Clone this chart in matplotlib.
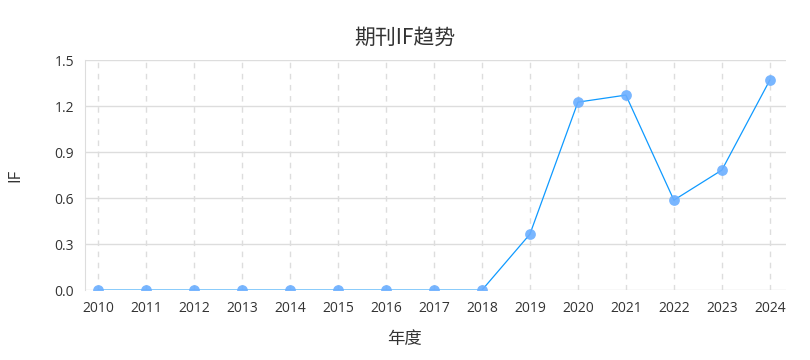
import matplotlib
matplotlib.use('Agg')
import matplotlib.pyplot as plt

plt.rcParams['font.family'] = ['Open Sans', 'Noto Sans CJK SC', 'DejaVu Sans']

# data
years = ['2010', '2011', '2012', '2013', '2014', '2015', '2016', '2017',
         '2018', '2019', '2020', '2021', '2022', '2023', '2024']
impact = [0, 0, 0, 0, 0, 0, 0, 0, 0, 0.365, 1.226, 1.272, 0.587, 0.783, 1.370]
y_ticks = [0.0, 0.3, 0.6, 0.9, 1.2, 1.5]

fig = plt.figure(figsize=(8.1, 3.6), dpi=100)
ax = fig.add_axes([0.105, 0.194, 0.865, 0.639])

x = list(range(len(years)))
ax.plot(x, impact, color='#0f9aff', linewidth=0.9, zorder=3)
ax.scatter(x, impact, s=60, color='#6aaeff', alpha=0.9, zorder=4, linewidths=0)

ax.set_xlim(-0.27, len(years) - 1 + 0.33)
ax.set_ylim(0, 1.5)
ax.set_xticks(x)
ax.set_xticklabels(years)
ax.set_yticks(y_ticks)
ax.set_yticklabels([f'{v:.1f}' for v in y_ticks])

ax.grid(axis='y', color='#dddddd', linewidth=1, linestyle='-')
ax.grid(axis='x', color='#dddddd', linewidth=1, linestyle=(0, (4, 4)))
ax.set_axisbelow(True)

for side in ['top', 'right', 'bottom']:
    ax.spines[side].set_visible(False)
ax.spines['left'].set_color('#dddddd')
ax.tick_params(length=0, colors='#333333', labelsize=10, pad=8)

# title and x label are centred on the figure, not the plot area
cjk = ['Noto Sans CJK SC', 'Open Sans']
fig.text(0.5, 0.058, '年度', ha='center', va='center', fontsize=12.5,
         color='#333333', family=cjk)
ax.set_ylabel('IF', fontsize=12, color='#333333', labelpad=22)
fig.text(0.5, 0.895, '期刊IF趋势', ha='center', va='center', fontsize=15,
         color='#333333', family=cjk)

fig.savefig('out.png', dpi=100)
